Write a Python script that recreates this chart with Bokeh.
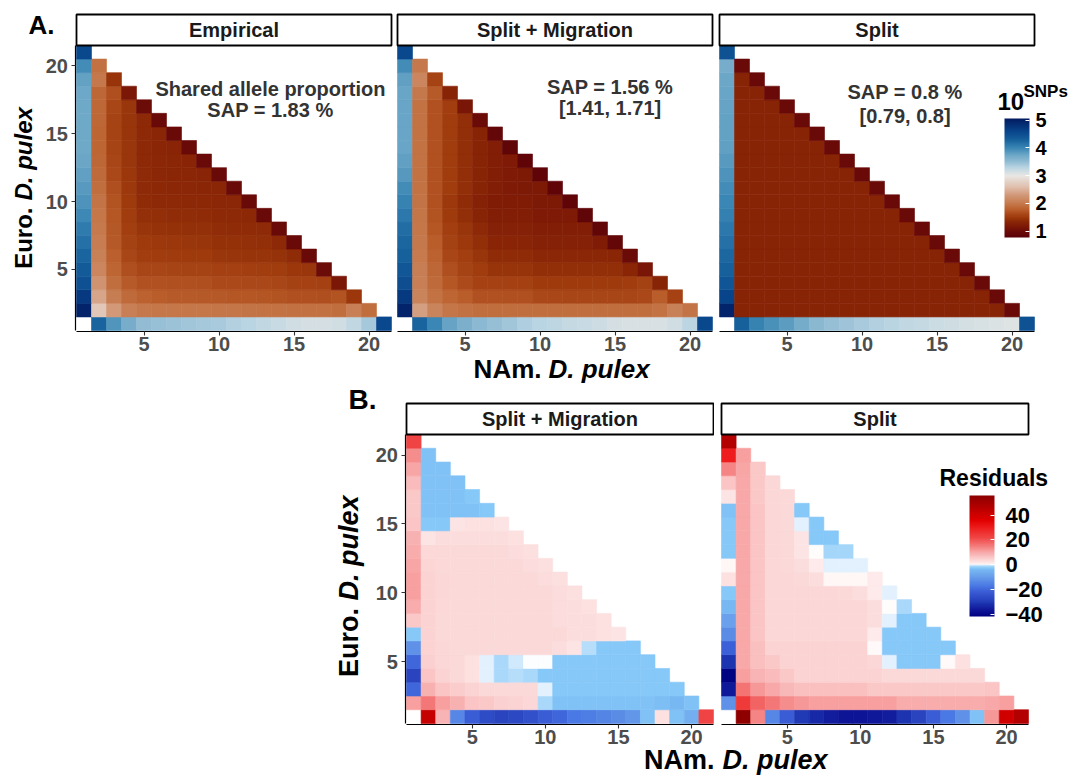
import numpy as np
from bokeh.plotting import figure
from bokeh.models import (ColumnDataSource, LinearColorMapper, ColorBar, FixedTicker,
                          Range1d, Label, CustomJSTickFormatter)
from bokeh.layouts import column, row
from bokeh.transform import transform
from bokeh.embed import file_html
from bokeh.resources import INLINE

FONT = "Liberation Sans"

# ---------------- data: each list row is Euro. D. pulex = 1, 2, ... ; entries are NAm. = 1, 2, ...
# log10(SNP count) per cell
EMPIRICAL = [
    [None, 4.28, 3.88, 3.68, 3.50, 3.47, 3.45, 3.42, 3.40, 3.38, 3.33, 3.30, 3.25, 3.20, 3.15, 3.12, 3.12, 3.15, 3.25, 3.40, 4.55],
    [4.95, 2.68, 2.30, 2.05, 1.98, 1.97, 1.97, 1.97, 1.97, 1.96, 1.96, 1.95, 1.93, 1.93, 1.92, 1.92, 1.92, 1.90, 2.05, 1.90],
    [4.72, 2.40, 2.03, 1.86, 1.80, 1.76, 1.75, 1.75, 1.74, 1.74, 1.72, 1.72, 1.71, 1.70, 1.67, 1.67, 1.66, 1.70, 1.48],
    [4.47, 2.25, 1.90, 1.75, 1.68, 1.68, 1.67, 1.67, 1.66, 1.63, 1.63, 1.62, 1.62, 1.60, 1.57, 1.56, 1.55, 1.15],
    [4.37, 2.12, 1.82, 1.66, 1.60, 1.60, 1.59, 1.58, 1.58, 1.55, 1.55, 1.54, 1.53, 1.52, 1.48, 1.47, 1.00],
    [4.27, 2.06, 1.78, 1.60, 1.53, 1.52, 1.51, 1.50, 1.50, 1.47, 1.46, 1.45, 1.45, 1.44, 1.38, 0.97],
    [4.18, 2.02, 1.74, 1.57, 1.50, 1.49, 1.48, 1.47, 1.46, 1.43, 1.43, 1.42, 1.41, 1.36, 0.97],
    [4.08, 1.99, 1.73, 1.54, 1.46, 1.44, 1.43, 1.42, 1.42, 1.39, 1.38, 1.38, 1.37, 0.97],
    [3.98, 1.97, 1.72, 1.52, 1.42, 1.40, 1.39, 1.39, 1.38, 1.36, 1.36, 1.35, 0.97],
    [3.90, 1.95, 1.70, 1.50, 1.38, 1.36, 1.36, 1.35, 1.35, 1.34, 1.34, 0.97],
    [3.85, 1.90, 1.66, 1.49, 1.37, 1.35, 1.34, 1.34, 1.33, 1.33, 0.97],
    [3.80, 1.86, 1.62, 1.48, 1.37, 1.34, 1.33, 1.33, 1.32, 0.97],
    [3.75, 1.84, 1.60, 1.47, 1.36, 1.34, 1.33, 1.32, 0.97],
    [3.72, 1.83, 1.59, 1.47, 1.36, 1.33, 1.32, 0.97],
    [3.72, 1.83, 1.58, 1.46, 1.36, 1.33, 0.97],
    [3.72, 1.84, 1.58, 1.46, 1.36, 0.97],
    [3.72, 1.85, 1.60, 1.47, 1.00],
    [3.73, 1.84, 1.66, 1.15],
    [3.78, 1.98, 1.45],
    [3.95, 1.92],
    [4.55],
]

SPLIT_MIG = [
    [None, 4.28, 4.00, 3.77, 3.66, 3.55, 3.48, 3.42, 3.35, 3.30, 3.26, 3.22, 3.20, 3.17, 3.12, 3.10, 3.10, 3.10, 3.15, 3.28, 4.55],
    [4.95, 2.35, 2.10, 1.96, 1.92, 1.90, 1.90, 1.90, 1.90, 1.90, 1.90, 1.90, 1.90, 1.90, 1.90, 1.90, 1.90, 1.93, 2.06, 1.95],
    [4.72, 2.10, 1.93, 1.82, 1.76, 1.68, 1.68, 1.67, 1.67, 1.62, 1.61, 1.60, 1.60, 1.60, 1.60, 1.60, 1.62, 1.76, 1.56],
    [4.50, 2.05, 1.86, 1.72, 1.64, 1.56, 1.56, 1.55, 1.55, 1.50, 1.50, 1.50, 1.50, 1.50, 1.50, 1.52, 1.57, 1.30],
    [4.40, 2.04, 1.84, 1.66, 1.58, 1.52, 1.45, 1.45, 1.45, 1.41, 1.41, 1.41, 1.41, 1.41, 1.40, 1.33, 1.14],
    [4.30, 2.00, 1.80, 1.60, 1.54, 1.46, 1.38, 1.38, 1.38, 1.34, 1.34, 1.34, 1.34, 1.34, 1.33, 0.98],
    [4.25, 1.98, 1.76, 1.57, 1.49, 1.40, 1.32, 1.32, 1.32, 1.28, 1.28, 1.28, 1.28, 1.22, 0.90],
    [4.20, 1.97, 1.72, 1.54, 1.46, 1.36, 1.28, 1.28, 1.28, 1.24, 1.24, 1.24, 1.24, 0.88],
    [4.12, 1.96, 1.70, 1.50, 1.40, 1.30, 1.24, 1.24, 1.24, 1.20, 1.20, 1.20, 0.86],
    [4.03, 1.95, 1.68, 1.49, 1.38, 1.28, 1.22, 1.22, 1.22, 1.19, 1.19, 0.85],
    [3.95, 1.93, 1.68, 1.52, 1.40, 1.30, 1.24, 1.20, 1.19, 1.19, 0.85],
    [3.86, 1.93, 1.68, 1.52, 1.40, 1.30, 1.24, 1.20, 1.19, 0.85],
    [3.80, 1.93, 1.68, 1.52, 1.40, 1.30, 1.24, 1.20, 0.85],
    [3.76, 1.93, 1.68, 1.52, 1.40, 1.30, 1.24, 0.86],
    [3.76, 1.93, 1.68, 1.52, 1.40, 1.30, 0.90],
    [3.76, 1.93, 1.68, 1.52, 1.41, 0.98],
    [3.76, 1.93, 1.68, 1.53, 1.14],
    [3.76, 1.98, 1.75, 1.30],
    [3.80, 2.12, 1.58],
    [3.95, 1.98],
    [4.55],
]

SPLIT = [
    [None, 4.30, 4.03, 3.92, 3.82, 3.70, 3.56, 3.48, 3.43, 3.38, 3.33, 3.29, 3.25, 3.22, 3.18, 3.16, 3.13, 3.11, 3.09, 3.07, 4.45],
    [4.95, 1.30, 1.30, 1.30, 1.30, 1.30, 1.30, 1.30, 1.30, 1.30, 1.30, 1.30, 1.30, 1.30, 1.30, 1.30, 1.30, 1.30, 1.30, 0.97],
    [4.60, 1.30, 1.30, 1.30, 1.30, 1.30, 1.30, 1.30, 1.30, 1.30, 1.30, 1.30, 1.30, 1.30, 1.30, 1.30, 1.30, 1.30, 0.97],
    [4.42, 1.30, 1.30, 1.30, 1.30, 1.30, 1.30, 1.30, 1.30, 1.30, 1.30, 1.30, 1.30, 1.30, 1.30, 1.30, 1.30, 0.97],
    [4.30, 1.30, 1.30, 1.30, 1.30, 1.30, 1.30, 1.30, 1.30, 1.30, 1.30, 1.30, 1.30, 1.30, 1.30, 1.30, 0.97],
    [4.24, 1.30, 1.30, 1.30, 1.30, 1.30, 1.30, 1.30, 1.30, 1.30, 1.30, 1.30, 1.30, 1.30, 1.30, 0.97],
    [4.18, 1.30, 1.30, 1.30, 1.30, 1.30, 1.30, 1.30, 1.30, 1.30, 1.30, 1.30, 1.30, 1.30, 0.97],
    [4.12, 1.30, 1.30, 1.30, 1.30, 1.30, 1.30, 1.30, 1.30, 1.30, 1.30, 1.30, 1.30, 0.97],
    [4.05, 1.30, 1.30, 1.30, 1.30, 1.30, 1.30, 1.30, 1.30, 1.30, 1.30, 1.30, 0.97],
    [4.00, 1.30, 1.30, 1.30, 1.30, 1.30, 1.30, 1.30, 1.30, 1.30, 1.30, 0.97],
    [3.95, 1.30, 1.30, 1.30, 1.30, 1.30, 1.30, 1.30, 1.30, 1.30, 0.97],
    [3.90, 1.30, 1.30, 1.30, 1.30, 1.30, 1.30, 1.30, 1.30, 0.97],
    [3.85, 1.30, 1.30, 1.30, 1.30, 1.30, 1.30, 1.30, 0.97],
    [3.80, 1.30, 1.30, 1.30, 1.30, 1.30, 1.30, 0.97],
    [3.78, 1.30, 1.30, 1.30, 1.30, 1.30, 0.97],
    [3.78, 1.30, 1.30, 1.30, 1.30, 0.97],
    [3.77, 1.30, 1.30, 1.30, 0.97],
    [3.76, 1.30, 1.30, 0.97],
    [3.74, 1.30, 0.97],
    [3.68, 0.97],
    [4.45],
]

# residuals per cell
RES_SPLIT_MIG = [
    [None, 43, 8.5, -14, -22, -26, -28, -27, -25, -22, -20, -17, -16, -14.5, -13, -11, -3, 2.5, -3, -6, 22],
    [11, 15.5, 11, 9, 6.5, 6, 5, 4.5, 4, -1, -3, -3, -3, -3, -3, -3, -3, -3.5, -4, -3],
    [-20, 9, 6.5, 5.5, 4.5, 3.5, 3.5, 3.5, 3.5, -0.3, -2.5, -2.5, -2.5, -2.5, -2.5, -2.5, -2.5, -2.5, -2.5],
    [-28, 6.5, 4.5, 3.5, 2.5, -0.3, -1, -0.8, -0.9, -2.5, -2.5, -2.5, -2.5, -2.5, -2.5, -2.5, -2.5, -2.5],
    [-20, 5, 4, 3.5, 2.5, -0.3, -1, -0.5, -0.05, -0.1, -2.5, -2.5, -2.5, -2.5, -2.5, -2.5, -2.5],
    [-12, 4.5, 4, 3.5, 3.5, 3.5, 3.5, 3.5, 3.5, 3.5, 3, 2, -0.7, -2.5, -2.5, -2.5],
    [-2.5, 4.5, 3.5, 3.5, 3.5, 3.5, 3.5, 3.5, 3.5, 3.5, 3.5, 3, 3, 2.5, 2],
    [6, 4.5, 3.5, 3.5, 3.5, 3.5, 3.5, 3.5, 3.5, 3.5, 3.2, 3, 3, 2.5],
    [9.5, 4.5, 3.8, 3.5, 3.5, 3.5, 3.5, 3.5, 3.5, 3.5, 3.2, 3, 2.5],
    [11, 4.5, 4, 3.6, 3.5, 3.5, 3.5, 3.5, 3.5, 3.5, 3.2, 2.8],
    [11, 4.5, 4, 3.6, 3.5, 3.5, 3.5, 3.5, 3.5, 3.2, 2.8],
    [10.5, 4.2, 3.8, 3.5, 3.5, 3.5, 3.5, 3.5, 3.2, 2.8],
    [9.5, 3.8, 3.5, 3.5, 3.5, 3.5, 3.5, 3.2, 2.8],
    [9, 2, 3, 3, 3, 3, 3, 2.5],
    [6.5, -2.5, -2.5, 2, 2.5, 2.5, 2],
    [6, -3, -3, -3, -3, -2.5],
    [6, -3, -3, -3, -2.5],
    [7.5, -3, -3, -3],
    [10.5, -3, -3],
    [13, -3],
    [22],
]

RES_SPLIT = [
    [None, 55, 14, -14, -22, -30, -33, -35, -37, -37, -36, -35, -31, -28, -22, -17, -12, -3, 12, 40, 47],
    [-12, 24, 18, 15.5, 13, 12, 11, 11, 11, 11, 11, 11, 9.5, 9.5, 9.5, 9.5, 9.5, 9.5, 10, 11],
    [-36, 16, 12, 10, 8, 7, 7, 7, 7, 7, 6, 6, 6, 6, 6, 6, 6, 6, 6.5],
    [-41, 11, 8.5, 7.5, 6, 4.5, 4.5, 4.5, 4.5, 4.5, 4.5, 3.5, 3.5, 3.5, 3.5, 3.5, 3.5, 3.5],
    [-31, 10, 7, 6, 4.5, 4.5, 4.5, 4.5, 4.5, 4.5, 4, -0.3, -2.5, -2.5, -2.5, 0.3, 2.5],
    [-21, 10, 7, 4.5, 4.5, 4.5, 4.5, 4.5, 4.5, 4.5, 0.3, -2.5, -2.5, -2.5, -2.5, -2.5],
    [-13, 10, 6.5, 4, 4, 4, 4, 4, 4, 4, 1.5, -2.5, -2.5, -2.5, -2.5],
    [-9, 10, 6.5, 4, 4, 4, 4, 4, 4, 4, 3, -0.3, -2.5, -2.5],
    [-4, 10, 6.5, 4, 4, 4, 4, 4, 4, 4, 3, 0.1, -1],
    [-2.5, 10, 6.5, 4, 4, 4, 4, 4, 3.5, 3, 1.5, -0.2],
    [2.5, 10, 6.5, 4, 4, 3.5, 3, 0.5, 0.5, 0.5, 1.5],
    [0.5, 10, 6.5, 4, 3.5, 3, 1.5, -0.2, -0.3, -0.2],
    [-2.5, 10, 6.5, 4, 3.5, 2, 0.1, -1.2, -1.2],
    [-2.5, 10, 6.5, 4, 3.5, 2, -2.5, -2.5],
    [-2.5, 10, 6.5, 4, 3.5, -0.2, -2.5],
    [-3, 10, 6.5, 4, 3.5, -2.5],
    [2, 10, 6, 4, 3.5],
    [6.5, 10, 6, 4],
    [14, 10.5, 6],
    [30, 11],
    [47],
]

AXIS_TICKS = [5, 10, 15, 20]
SNP_TICKS = [1, 2, 3, 4, 5]
RES_TICKS = [-40, -20, 0, 20, 40]
SNP_LIMITS = (0.77, 5.06)
RES_LIMITS = (-41.6, 55.8)

SNP_STOPS = [(0.77, "#590008"), (1.0, "#6c0c08"), (1.2, "#7e1a06"), (1.35, "#8c2806"),
             (1.5, "#9e3a0c"), (1.65, "#ae4c1c"), (1.8, "#bc6230"), (2.0, "#c67a4e"),
             (2.3, "#d29878"), (2.6, "#e0c0ae"), (3.0, "#e9e7e4"), (3.3, "#b8d4e2"),
             (3.5, "#92bcd4"), (3.7, "#74acca"), (4.0, "#3a86b4"), (4.3, "#16609c"),
             (4.6, "#08448a"), (5.06, "#021a60")]
RES_STOPS = [(-41.6, "#000080"), (-36, "#10189a"), (-31, "#1c34b0"), (-28, "#2a44c0"),
             (-21, "#3c60d8"), (-17, "#4a78e4"), (-13, "#5a8ce6"), (-9, "#6aa0ec"),
             (-4, "#78b8f2"), (-2.5, "#86c8f8"), (-1, "#a8d8fa"), (-0.3, "#d8ecfc"),
             (0, "#ffffff"), (0.5, "#fff6f6"), (2, "#fde4e4"), (3.5, "#fcdada"),
             (6, "#fbc8c8"), (9, "#f8b0b0"), (11, "#f8a0a0"), (15.5, "#f47878"),
             (22, "#f04444"), (30, "#ee1c1c"), (36, "#e00000"), (42, "#c80000"),
             (48, "#ae0000"), (55.8, "#8b0000")]


def make_palette(stops, lo, hi, n=512):
    vals = np.array([s for s, _ in stops], float)
    rgb = np.array([[int(c[i:i + 2], 16) for i in (1, 3, 5)] for _, c in stops], float)
    centers = lo + (np.arange(n) + 0.5) * (hi - lo) / n
    out = []
    for g in centers:
        r, gg, b = (int(round(np.interp(g, vals, rgb[:, k]))) for k in range(3))
        out.append("#%02x%02x%02x" % (r, gg, b))
    return out


snp_mapper = LinearColorMapper(palette=make_palette(SNP_STOPS, *SNP_LIMITS),
                               low=SNP_LIMITS[0], high=SNP_LIMITS[1])
res_mapper = LinearColorMapper(palette=make_palette(RES_STOPS, *RES_LIMITS),
                               low=RES_LIMITS[0], high=RES_LIMITS[1])


def cell_source(rows):
    xs, ys, vs = [], [], []
    for j, r in enumerate(rows, start=1):
        assert len(r) == 22 - j, (j, len(r))
        for i, v in enumerate(r, start=1):
            if v is not None:
                xs.append(i)
                ys.append(j)
                vs.append(v)
    return ColumnDataSource(dict(x=xs, y=ys, v=vs))


def style_axis(ax):
    ax.ticker = FixedTicker(ticks=AXIS_TICKS)
    ax.bounds = (0.5, 21.5)
    ax.axis_line_color = "black"
    ax.axis_line_width = 1.2
    ax.major_tick_line_color = "#333333"
    ax.major_tick_line_width = 1.1
    ax.major_tick_in = 0
    ax.major_tick_out = 4
    ax.minor_tick_line_color = None
    ax.major_label_text_font = FONT
    ax.major_label_text_font_style = "bold"
    ax.major_label_text_font_size = "20px"
    ax.major_label_text_color = "#4d4d4d"


class Panel:
    """A facet whose frame covers its whole page region; pixel boxes are page coordinates."""

    def __init__(self, rows, mapper, strip_text, box, origin, cell, strip_px, yaxis):
        self.left, self.top, self.right, self.bottom = box
        x0, y0 = origin          # page pixel of the panel's lower-left corner (x = 0.5, y = 0.5)
        cw, ch = cell
        p = figure(frame_width=self.right - self.left, frame_height=self.bottom - self.top,
                   min_border=0,
                   x_range=Range1d(0.5 - (x0 - self.left) / cw, 0.5 + (self.right - x0) / cw),
                   y_range=Range1d(0.5 - (self.bottom - y0) / ch, 0.5 + (y0 - self.top) / ch),
                   y_axis_location="left" if yaxis else None,
                   output_backend="svg", toolbar_location=None, tools="")
        p.outline_line_color = None
        p.grid.visible = False
        p.background_fill_color = "white"
        p.border_fill_color = "white"
        src = cell_source(rows)
        p.rect(x="x", y="y", width=1, height=1, source=src,
               fill_color=transform("v", mapper), line_color=transform("v", mapper),
               line_width=0.6)
        strip_top = 21.5 + strip_px / ch
        p.quad(left=[0.5], right=[21.5], bottom=[21.5], top=[strip_top],
               fill_color="white", line_color="black", line_width=1.8)
        p.add_layout(Label(x=11, y=(21.5 + strip_top) / 2, text=strip_text,
                           text_font=FONT, text_font_style="bold", text_font_size="20px",
                           text_color="#1a1a1a", text_align="center", text_baseline="middle"))
        for ax in p.xaxis:
            style_axis(ax)
            ax.fixed_location = 0.5 - 0.6 / ch
            ax.major_label_standoff = 2
        if yaxis:
            for ax in p.yaxis:
                style_axis(ax)
                ax.fixed_location = 0.5 - 0.6 / cw
                ax.major_label_standoff = 4
        self.p = p

    def text(self, text, X, Y, size, style="bold", color="black", align="left",
             angle=0.0, data=False):
        """(X, Y) is the centre line of the capitals (middle baseline)."""
        if data:
            lbl = Label(x=X, y=Y, text=text)
        else:
            lbl = Label(x=X - self.left, y=self.bottom - Y, x_units="screen",
                        y_units="screen", text=text)
        lbl.update(text_font=FONT, text_font_style=style, text_font_size=size,
                   text_color=color, text_align=align, text_baseline="middle", angle=angle)
        self.p.add_layout(lbl)

    def colorbar(self, mapper, ticks, bar_box, label_size, standoff, formatter=None):
        bl, bt, br, bb = bar_box
        kw = dict(color_mapper=mapper, location=(bl - self.left, self.bottom - bb),
                  width=br - bl, height=bb - bt, padding=0, margin=0,
                  ticker=FixedTicker(ticks=ticks),
                  major_label_text_font=FONT, major_label_text_font_style="bold",
                  major_label_text_font_size=label_size, major_label_text_color="black",
                  label_standoff=standoff, major_tick_line_color="white", major_tick_in=4,
                  major_tick_out=0, minor_tick_line_color=None, bar_line_color=None,
                  border_line_color=None, background_fill_alpha=0)
        if formatter is not None:
            kw["formatter"] = formatter
        self.p.add_layout(ColorBar(**kw))


TOP_CELL = (15.0, 285 / 21)
BOT_CELL = (307 / 21, 289 / 21)

a1 = Panel(EMPIRICAL, snp_mapper, "Empirical", (0, 0, 394, 385), (76, 330), TOP_CELL, 31, True)
a2 = Panel(SPLIT_MIG, snp_mapper, "Split + Migration", (394, 0, 716, 385), (397, 330), TOP_CELL, 31, False)
a3 = Panel(SPLIT, snp_mapper, "Split", (716, 0, 1069, 385), (719, 330), TOP_CELL, 31, False)
b1 = Panel(RES_SPLIT_MIG, res_mapper, "Split + Migration", (0, 385, 714, 775), (406, 723), BOT_CELL, 31, True)
b2 = Panel(RES_SPLIT, res_mapper, "Split", (714, 385, 1069, 775), (721, 723), BOT_CELL, 31, False)

# in-panel annotations (data coordinates)
ANNOT = "#333333"
a1.text("Shared allele proportion", 13.43, 18.33, "20px", color=ANNOT, align="center", data=True)
a1.text("SAP = 1.83 %", 13.43, 16.78, "20px", color=ANNOT, align="center", data=True)
a2.text("SAP = 1.56 %", 14.67, 18.41, "20px", color=ANNOT, align="center", data=True)
a2.text("[1.41, 1.71]", 14.67, 16.93, "20px", color=ANNOT, align="center", data=True)
a3.text("SAP = 0.8 %", 12.87, 18.04, "20px", color=ANNOT, align="center", data=True)
a3.text("[0.79, 0.8]", 12.87, 16.27, "20px", color=ANNOT, align="center", data=True)

# panel letters and axis titles (page pixels, centre of capitals)
a1.text("A.", 28, 24, "26px")
a1.text("Euro.", 22.5, 207, "24px", align="right", angle=np.pi / 2)
a1.text("D. pulex", 22.5, 200, "24px", style="bold italic", angle=np.pi / 2)
a2.text("NAm.", 541, 368, "26px", align="right")
a2.text("D. pulex", 548, 368, "26px", style="bold italic")

b1.text("B.", 348, 399, "28px")
b1.text("Euro.", 348, 607.5, "27px", align="right", angle=np.pi / 2)
b1.text("D. pulex", 348, 600, "27px", style="bold italic", angle=np.pi / 2)
b1.text("NAm.", 714, 759, "27px", align="right")
b2.text("D. pulex", 722, 759, "27px", style="bold italic")

# colour bars and their titles
a3.colorbar(snp_mapper, SNP_TICKS, (1004, 118, 1029, 237), "20px", 6)
a3.text("10", 997, 101, "24px")
a3.text("SNPs", 1023, 90.5, "17px")

b2.colorbar(res_mapper, RES_TICKS, (969, 495, 994, 616), "22px", 11,
            formatter=CustomJSTickFormatter(
                code="return tick < 0 ? '\\u2212' + String(-tick) : String(tick);"))
b2.text("Residuals", 939, 477.5, "23px")

layout = column(row(a1.p, a2.p, a3.p), row(b1.p, b2.p))
open("out.html", "w").write(file_html(layout, INLINE))
